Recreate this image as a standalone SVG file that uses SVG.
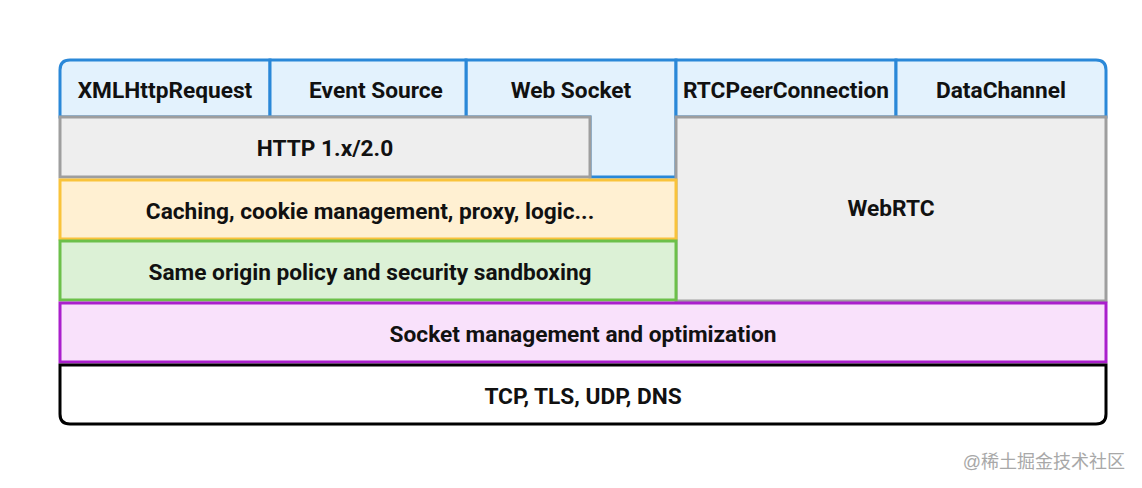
<svg xmlns="http://www.w3.org/2000/svg" width="1142" height="488" viewBox="0 0 1142 488">
<style>
.t{font-family:Roboto,"Liberation Sans",sans-serif;font-weight:bold;font-size:22.7px;fill:#111;text-anchor:middle;dominant-baseline:central}
.blue{fill:#e3f2fd;stroke:#2a88d8;stroke-width:3}
.gray{fill:#eeeeee;stroke:#9e9e9e;stroke-width:3}
.yel{fill:#fff0d2;stroke:#f9c33b;stroke-width:3}
.grn{fill:#dcf1d6;stroke:#6cc04a;stroke-width:3}
.pur{fill:#f9e1fb;stroke:#aa1fcc;stroke-width:3}
.blk{fill:#ffffff;stroke:#000;stroke-width:3}
</style>
<rect width="1142" height="488" fill="#fff"/>
<g id="websocket"><path class="blue" d="M466,60 H676 V177 H590 V117 H466 Z"/><text class="t" x="571" y="90">Web Socket</text></g>
<g id="xhr"><path class="blue" d="M60,117 V70 Q60,60 70,60 H270 V117 Z"/><text class="t" x="165" y="90">XMLHttpRequest</text></g>
<g id="eventsource"><rect class="blue" x="270" y="60" width="196" height="57"/><text class="t" x="376" y="90">Event Source</text></g>
<g id="rtcpeer"><rect class="blue" x="676" y="60" width="220" height="57"/><text class="t" x="786" y="90">RTCPeerConnection</text></g>
<g id="datachannel"><path class="blue" d="M896,60 H1096 Q1106,60 1106,70 V117 H896 Z"/><text class="t" x="1001" y="90">DataChannel</text></g>
<g id="http"><rect class="gray" x="60" y="117" width="530" height="60"/><text class="t" x="325" y="148">HTTP 1.x/2.0</text></g>
<g id="webrtc"><rect class="gray" x="676" y="117" width="430" height="184"/><text class="t" x="891" y="208">WebRTC</text></g>
<g id="caching"><rect class="yel" x="60" y="180" width="616" height="59"/><text class="t" x="370" y="211">Caching, cookie management, proxy, logic...</text></g>
<g id="sameorigin"><rect class="grn" x="60" y="241" width="616" height="59"/><text class="t" x="370" y="272">Same origin policy and security sandboxing</text></g>
<g id="socket"><rect class="pur" x="60" y="303" width="1046" height="59"/><text class="t" x="583" y="334">Socket management and optimization</text></g>
<g id="tcp"><path class="blk" d="M60,365 H1106 V414 Q1106,424 1096,424 H70 Q60,424 60,414 Z"/><text class="t" x="583" y="396">TCP, TLS, UDP, DNS</text></g>
<g id="connectors"></g>
<text x="1125" y="462" text-anchor="end" style="font-family:'Liberation Sans','Noto Sans CJK SC',sans-serif;font-size:18px;fill:#a8a8a8;dominant-baseline:central">@稀土掘金技术社区</text>
</svg>
